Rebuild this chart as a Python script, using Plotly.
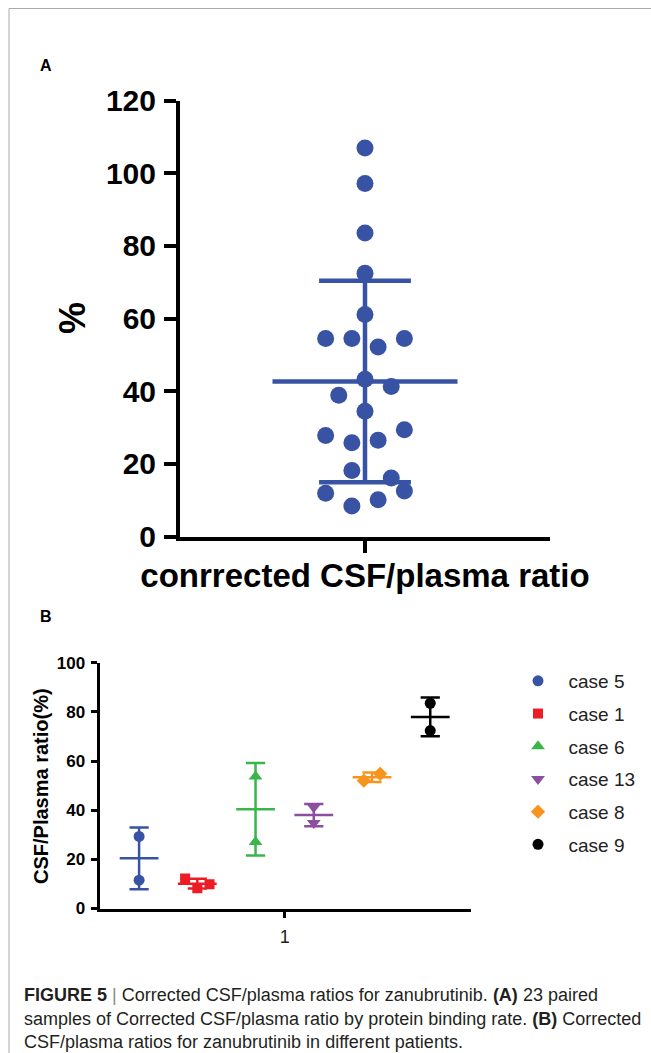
import numpy as np
import plotly.graph_objects as go

W, H = 651, 1053
FONT = "Liberation Sans, Arial, Helvetica, sans-serif"

# ---------------- Panel A data ----------------
a_values = [107.0, 97.2, 83.6, 72.5, 61.1, 54.5, 54.5, 54.5, 52.2, 43.3, 41.3, 38.9,
            34.5, 29.4, 27.8, 25.8, 26.5, 18.2, 16.1, 12.5, 11.9, 10.1, 8.4]
a_column = [0, 0, 0, 0, 0, -3, -1, 3, 1, 0, 2, -2, 0, 3, -3, -1, 1, -1, 2, 3, -3, 1, -1]
a_category = "conrrected CSF/plasma ratio"
a_yticks = [0, 20, 40, 60, 80, 100, 120]

# ---------------- Panel B data ----------------
case_names = ["case 5", "case 1", "case 6", "case 13", "case 8", "case 9"]
case5 = [29.3, 11.5]
case1 = [12.2, 8.2, 9.9]
case6 = [53.7, 27.1]
case13 = [41.2, 34.8]
case8 = [52.0, 54.8]
case9 = [83.5, 72.4]
case5_jit = [0.0, 0.0]
case1_jit = [-0.21, 0.0, 0.21]
case6_jit = [0.0, 0.0]
case13_jit = [0.0, 0.0]
case8_jit = [-0.14, 0.14]
case9_jit = [0.0, 0.0]
b_xtick = ["1"]
b_yticks = [0, 20, 40, 60, 80, 100]

b_series = [case5, case1, case6, case13, case8, case9]
b_jitter = [case5_jit, case1_jit, case6_jit, case13_jit, case8_jit, case9_jit]
b_colors = ["#3953A4", "#ED1C24", "#39B54A", "#8B4F9F", "#F7941D", "#000000"]
b_symbols = ["circle", "square", "triangle-up", "triangle-down", "diamond", "circle"]
b_msizes = [11, 10, 12, 12, 11, 11]

A_BLUE = "#3953A4"


def px(x):
    return x / W


def py(y):
    return 1 - y / H


def mean_sd_path(center, vals, half_mean, half_cap):
    m = float(np.mean(vals))
    s = float(np.std(vals, ddof=1))
    xs = [center - half_mean, center + half_mean, None,
          center, center, None,
          center - half_cap, center + half_cap, None,
          center - half_cap, center + half_cap]
    ys = [m, m, None,
          m - s, m + s, None,
          m + s, m + s, None,
          m - s, m - s]
    return xs, ys


fig = go.Figure()

# Panel A : mean +/- SD
xs, ys = mean_sd_path(0.0, a_values, 7.05, 3.5)
fig.add_trace(go.Scatter(x=xs, y=ys, mode="lines", line=dict(color=A_BLUE, width=4.5),
                         showlegend=False, hoverinfo="skip", xaxis="x", yaxis="y"))
fig.add_trace(go.Scatter(x=a_column, y=a_values, mode="markers",
                         marker=dict(color=A_BLUE, size=17, line=dict(width=0)),
                         showlegend=False, xaxis="x", yaxis="y"))

# Panel B : per case
for i, (name, vals, jit, col, sym) in enumerate(zip(case_names, b_series, b_jitter, b_colors, b_symbols)):
    center = i - 2.5
    xs, ys = mean_sd_path(center, vals, 0.333, 0.165)
    fig.add_trace(go.Scatter(x=xs, y=ys, mode="lines", line=dict(color=col, width=2.5),
                             showlegend=False, hoverinfo="skip", xaxis="x2", yaxis="y2"))
for i, (name, vals, jit, col, sym, ms) in enumerate(zip(case_names, b_series, b_jitter, b_colors,
                                                         b_symbols, b_msizes)):
    center = i - 2.5
    fig.add_trace(go.Scatter(x=[center + j for j in jit], y=vals, mode="markers",
                             name="\u00a0\u00a0" + name,
                             marker=dict(color=col, symbol=sym, size=ms, line=dict(width=0)),
                             legendgroup=name, xaxis="x2", yaxis="y2"))

axis_common = dict(showgrid=False, zeroline=False, showline=True, linecolor="black",
                   ticks="outside", tickcolor="black", automargin=False)

fig.update_layout(
    width=W, height=H,
    margin=dict(l=0, r=0, t=0, b=0, autoexpand=False),
    paper_bgcolor="white", plot_bgcolor="white",
    font=dict(family=FONT, color="black"),
    xaxis=dict(domain=[px(180), px(550)], range=[-14.1, 14.1], anchor="y",
               tickvals=[0], ticktext=[a_category], ticklen=12, tickwidth=4, linewidth=4,
               tickfont=dict(family=FONT, size=33, weight="bold", color="black"),
               ticklabelstandoff=-5, **axis_common),
    yaxis=dict(domain=[py(536.5), py(100.7)], range=[0, 120], anchor="x",
               tickvals=a_yticks, ticklen=12, tickwidth=4, linewidth=4,
               tickfont=dict(family=FONT, size=30, weight="bold", color="black"),
               ticklabelstandoff=2, **axis_common),
    xaxis2=dict(domain=[px(99.5), px(471)], range=[-3.18, 3.2], anchor="y2",
                tickvals=[0], ticktext=b_xtick, ticklen=6, tickwidth=2.5, linewidth=3,
                tickfont=dict(family=FONT, size=18, color="#222222"),
                ticklabelstandoff=4, **axis_common),
    yaxis2=dict(domain=[py(908.5), py(662.7)], range=[0, 100], anchor="x2",
                tickvals=b_yticks, ticklen=6, tickwidth=2.5, linewidth=3,
                tickfont=dict(family=FONT, size=17, weight="bold", color="black"),
                ticklabelstandoff=2, **axis_common),
    legend=dict(x=px(518), y=py(662), xanchor="left", yanchor="top",
                font=dict(family=FONT, size=19, color="#222222"),
                bgcolor="rgba(0,0,0,0)", borderwidth=0, tracegroupgap=5,
                itemwidth=30),
    showlegend=True,
)

annotations = [
    dict(text="<b>A</b>", x=px(46), y=py(65), font=dict(size=16)),
    dict(text="<b>B</b>", x=px(46), y=py(616), font=dict(size=16)),
    dict(text="<b>%</b>", x=px(72), y=py(318), font=dict(size=36), textangle=-90),
    dict(text="<b>CSF/Plasma ratio(%)</b>", x=px(41), y=py(786), font=dict(size=20), textangle=-90),
]
for a in annotations:
    a.update(xref="paper", yref="paper", showarrow=False, xanchor="center", yanchor="middle")
    a["font"].update(family=FONT, color="black")

caption_lines = [
    "<b>FIGURE 5</b> <span style='color:#888888'>|</span> Corrected CSF/plasma ratios for zanubrutinib. <b>(A)</b> 23 paired",
    "samples of Corrected CSF/plasma ratio by protein binding rate. <b>(B)</b> Corrected",
    "CSF/plasma ratios for zanubrutinib in different patients.",
]
caption_y = [995, 1019, 1042]
for t, yy in zip(caption_lines, caption_y):
    annotations.append(dict(text=t, x=px(22), y=py(yy), xref="paper", yref="paper",
                            showarrow=False, xanchor="left", yanchor="middle",
                            font=dict(family=FONT, size=18, color="#231F20")))
fig.update_layout(annotations=annotations)

fig.update_layout(shapes=[
    dict(type="line", xref="paper", yref="paper", x0=px(9), x1=1, y0=py(8.5), y1=py(8.5),
         line=dict(color="#AAAAAA", width=1)),
    dict(type="line", xref="paper", yref="paper", x0=px(9), x1=px(9), y0=py(8.5), y1=0,
         line=dict(color="#AAAAAA", width=1)),
])

fig.write_html("out.html", config={"displayModeBar": False},
               post_script="document.body.style.margin='0';document.body.style.overflow='hidden';")
